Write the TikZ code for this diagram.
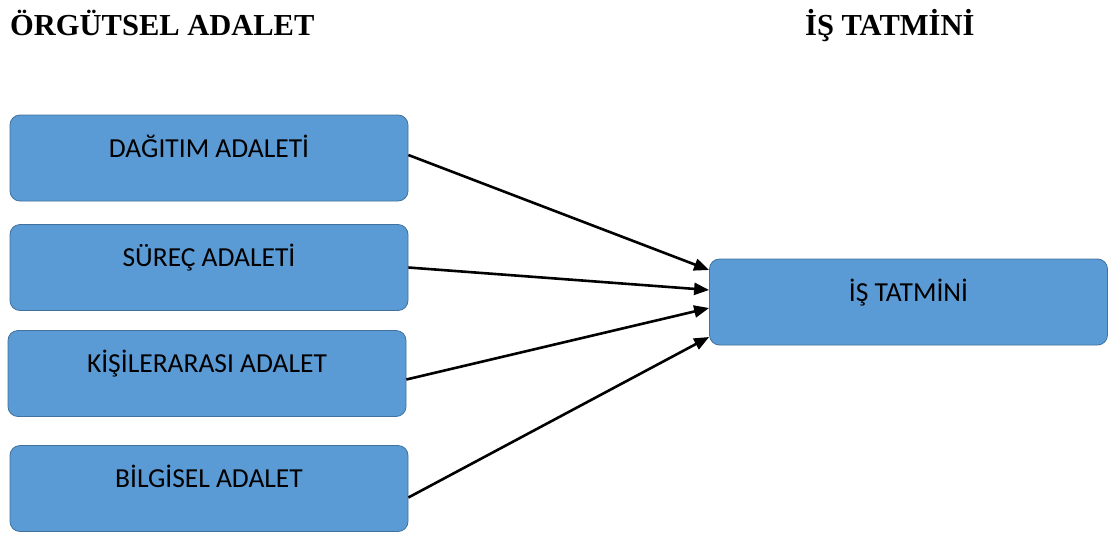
\documentclass[tikz,border=0pt]{standalone}
\usepackage{fontspec}
\setmainfont{Liberation Serif}
\newfontfamily\boxfont{Carlito}
\usetikzlibrary{arrows.meta}
\definecolor{boxfill}{HTML}{5B9BD5}
\definecolor{boxline}{HTML}{41719C}
\begin{document}
\begin{tikzpicture}[x=1pt,y=-1pt,
  blue box/.style={draw=boxline, line width=0.8pt, fill=boxfill, rounded corners=10pt,
    minimum width=398pt, minimum height=86pt, inner sep=0pt,
    font=\boxfont\fontsize{27.5}{32}\selectfont, text height=19pt, text depth=21pt},
  heading/.style={anchor=base west, inner sep=0pt, font=\bfseries\fontsize{30.5}{36}\selectfont},
  link/.style={-{Triangle[length=15pt,width=12pt]}, line width=2.6pt}]
\useasboundingbox (0,0) rectangle (1113,533);
\node[heading] (h1) at (10,35) {ÖRGÜTSEL ADALET};
\node[heading] (h2) at (805,35) {İŞ TATMİNİ};
\node[blue box] (b1) at (209,158) {DAĞITIM ADALETİ};
\node[blue box] (b2) at (209,267.5) {SÜREÇ ADALETİ};
\node[blue box] (b3) at (207,373.5) {KİŞİLERARASI ADALET};
\node[blue box] (b4) at (209,488.5) {BİLGİSEL ADALET};
\node[blue box] (t) at (908.5,302) {İŞ TATMİNİ};
\draw[link] ([yshift=3pt]b1.east) -- ([yshift=32pt]t.west);
\draw[link] (b2.east) -- ([yshift=12pt]t.west);
\draw[link] ([yshift=-6pt]b3.east) -- ([yshift=-6pt]t.west);
\draw[link] ([yshift=-9pt]b4.east) -- ([yshift=-35pt]t.west);
\end{tikzpicture}
\end{document}
